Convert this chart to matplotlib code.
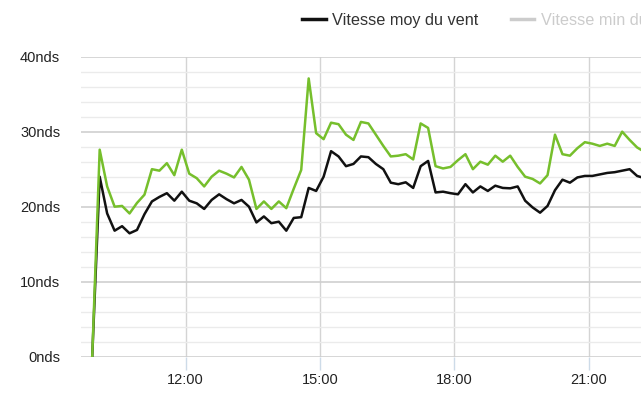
#!/usr/bin/env python3

import pandas as pd
import matplotlib
matplotlib.use('Agg')
import matplotlib.pyplot as plt
import matplotlib.dates as mdates
from matplotlib.lines import Line2D
from matplotlib.ticker import MultipleLocator, FuncFormatter

# Wind speed readings every 10 minutes, starting 09:55 (knots)
start_time = '2024-01-01 09:55'
vent_moy = [0, 24.0, 19.1, 16.8, 17.4, 16.45, 16.9, 19.0, 20.7, 21.3,
            21.8, 20.8, 22.0, 20.8, 20.45, 19.7, 20.9, 21.65, 21.0, 20.45,
            20.9, 20.0, 17.9, 18.7, 17.8, 18.0, 16.8, 18.5, 18.6, 22.5,
            22.1, 24.0, 27.4, 26.7, 25.4, 25.7, 26.7, 26.6, 25.7, 25.0,
            23.2, 23.0, 23.25, 22.5, 25.4, 26.1, 21.9, 22.0, 21.8, 21.65,
            23.0, 21.9, 22.7, 22.1, 22.8, 22.5, 22.45, 22.7, 20.8, 19.9,
            19.2, 20.1, 22.2, 23.6, 23.2, 23.9, 24.1, 24.1, 24.3, 24.5,
            24.6, 24.8, 25.0, 24.1, 23.8]
vent_max = [0, 27.6, 22.7, 20.0, 20.1, 19.1, 20.5, 21.6, 25.0, 24.8,
            25.8, 24.2, 27.6, 24.4, 23.8, 22.7, 24.0, 24.8, 24.4, 23.9,
            25.3, 23.6, 19.7, 20.7, 19.7, 20.7, 19.8, 22.4, 24.9, 37.1,
            29.8, 29.0, 31.2, 31.0, 29.6, 28.9, 31.3, 31.1, 29.6, 28.1,
            26.7, 26.8, 27.0, 26.3, 31.1, 30.5, 25.4, 25.1, 25.3, 26.2,
            27.0, 25.0, 26.0, 25.6, 26.8, 26.0, 26.8, 25.3, 24.0, 23.7,
            23.1, 24.2, 29.6, 27.0, 26.8, 27.8, 28.6, 28.4, 28.1, 28.4,
            28.1, 30.0, 28.9, 27.9, 27.3]
series_labels = ['Vitesse moy du vent', 'Vitesse min du vent', 'Vitesse max du vent']
y_ticks = [0, 10, 20, 30, 40]

times = pd.date_range(start_time, periods=len(vent_moy), freq='10min')

plt.rcParams['font.family'] = ['Liberation Sans', 'DejaVu Sans']

fig = plt.figure(figsize=(6.41, 4.04), dpi=100)
ax = fig.add_axes([0.1264, 0.1171, 0.9665, 0.7426])

ax.plot(times, vent_moy, color='#111111', lw=1.8, zorder=3)
ax.plot(times, vent_max, color='#76bf2c', lw=1.8, zorder=4)

ax.set_xlim(pd.Timestamp('2024-01-01 09:40'), pd.Timestamp('2024-01-01 23:30'))
ax.set_ylim(0, 40)

ax.set_yticks(y_ticks)
ax.yaxis.set_minor_locator(MultipleLocator(2))
ax.yaxis.set_major_formatter(FuncFormatter(lambda v, p: f"{int(v)}nds"))
ax.xaxis.set_major_locator(mdates.HourLocator(byhour=[12, 15, 18, 21]))
ax.xaxis.set_major_formatter(mdates.DateFormatter('%H:%M'))

ax.grid(axis='y', which='minor', color='#ebebeb', lw=1.0)
ax.grid(axis='y', which='major', color='#cfcfcf', lw=1.2)
ax.grid(axis='x', which='major', color='#d4d4d4', lw=1.0)
ax.set_axisbelow(True)

for s in ax.spines.values():
    s.set_visible(False)

ax.tick_params(axis='y', which='both', length=0, pad=15, labelsize=10.5, labelcolor='#222222')
ax.tick_params(axis='x', which='major', length=9, width=1, color='#cddbe8', pad=3,
               labelsize=10.5, labelcolor='#222222')

handles = [Line2D([], [], color='#111111', lw=2.5),
           Line2D([], [], color='#cccccc', lw=2.5),
           Line2D([], [], color='#76bf2c', lw=2.5)]
leg = fig.legend(handles, series_labels, loc='center left', bbox_to_anchor=(302 / 641, 0.95),
                 ncol=3, frameon=False, fontsize=11.7, borderpad=0, borderaxespad=0,
                 handlelength=1.45, handletextpad=0.4, columnspacing=2.0)
for txt, c in zip(leg.get_texts(), ['#333333', '#cccccc', '#333333']):
    txt.set_color(c)

plt.savefig('out.png', dpi=100)
